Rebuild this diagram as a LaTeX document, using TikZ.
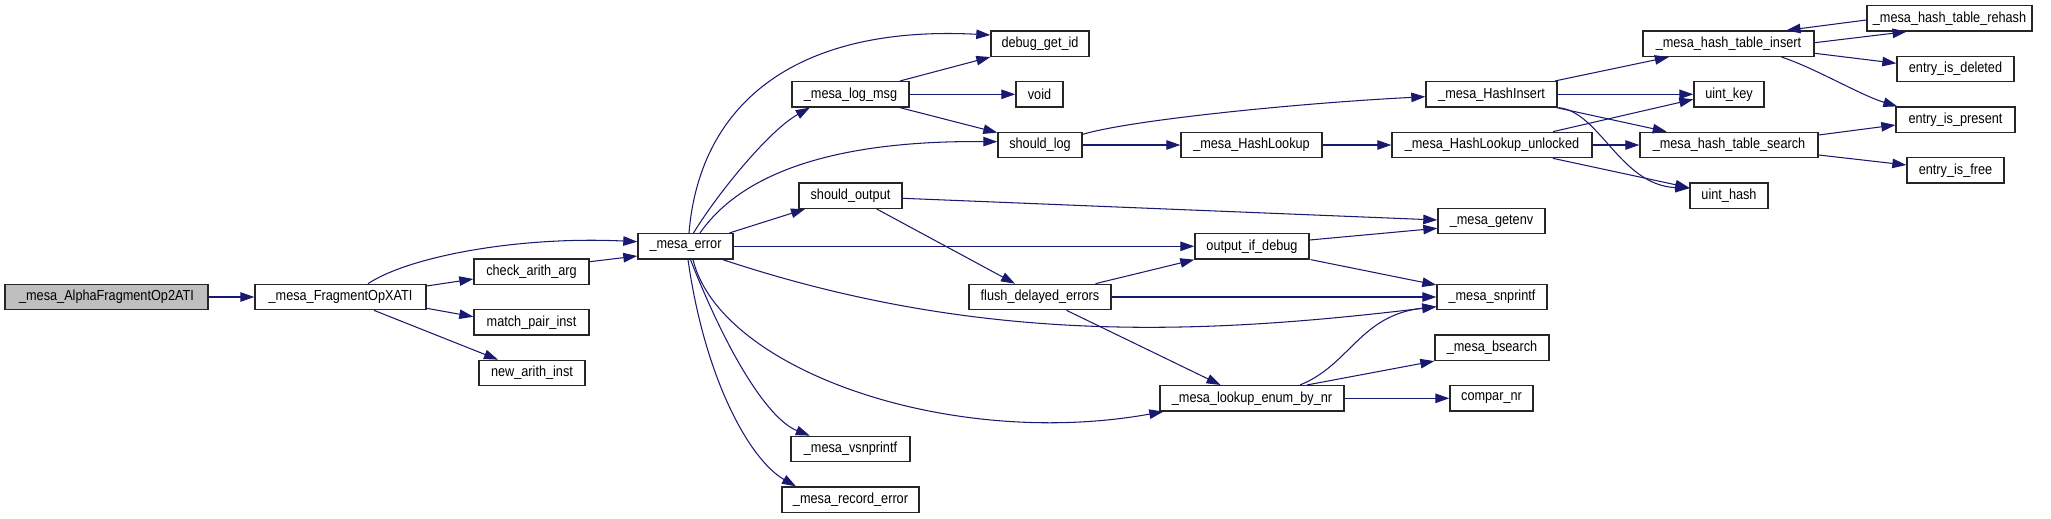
\documentclass[tikz,border=0pt]{standalone}
\usepackage{fontspec}
\setmainfont{Liberation Sans}
\newfontfamily\nodefont[FakeStretch=0.87]{Liberation Sans}
\usetikzlibrary{arrows.meta,calc}
\definecolor{edgeblue}{HTML}{191970}
\definecolor{rootgray}{HTML}{BFBFBF}
\begin{document}
\begin{tikzpicture}[x=1pt,y=-1pt,
  fn/.style={draw=black!85,line width=1.4pt,fill=white,rectangle,inner sep=0pt,
     minimum height=25.3pt,font=\nodefont\fontsize{14.6}{16}\selectfont},
  call/.style={draw=edgeblue,line width=1.05pt,-{Triangle[length=14pt,width=9.5pt]}}]
\path[use as bounding box] (0,0) rectangle (2051,519);
% nodes
\node[fn,fill=rootgray,minimum width=203pt] (alpha) at (106.5,297) {\_mesa\_AlphaFragmentOp2ATI};
\node[fn,minimum width=171pt] (frag) at (340.5,297) {\_mesa\_FragmentOpXATI};
\node[fn,minimum width=115pt] (check) at (531.5,271.7) {check\_arith\_arg};
\node[fn,minimum width=115pt] (match) at (531.5,322.3) {match\_pair\_inst};
\node[fn,minimum width=106pt] (newarith) at (532,373) {new\_arith\_inst};
\node[fn,minimum width=95pt] (err) at (685.5,246.3) {\_mesa\_error};
\node[fn,minimum width=98pt] (dbg) at (1040,43.7) {debug\_get\_id};
\node[fn,minimum width=117pt] (logmsg) at (850.5,94.3) {\_mesa\_log\_msg};
\node[fn,minimum width=47pt] (void) at (1039.5,94.3) {void};
\node[fn,minimum width=84pt] (shlog) at (1040,145) {should\_log};
\node[fn,minimum width=103pt] (shout) at (850.5,195.7) {should\_output};
\node[fn,minimum width=141pt] (hlookup) at (1251.5,145) {\_mesa\_HashLookup};
\node[fn,minimum width=114pt] (outdbg) at (1252,246.3) {output\_if\_debug};
\node[fn,minimum width=142pt] (flush) at (1040,297) {flush\_delayed\_errors};
\node[fn,minimum width=184pt] (lookup) at (1252,398.3) {\_mesa\_lookup\_enum\_by\_nr};
\node[fn,minimum width=119pt] (vsn) at (850.5,449) {\_mesa\_vsnprintf};
\node[fn,minimum width=137pt] (rec) at (850.5,499.7) {\_mesa\_record\_error};
\node[fn,minimum width=165pt] (rehash) at (1949.5,18.3) {\_mesa\_hash\_table\_rehash};
\node[fn,minimum width=171pt] (hins) at (1728.5,43.7) {\_mesa\_hash\_table\_insert};
\node[fn,minimum width=117pt] (deleted) at (1955.5,69) {entry\_is\_deleted};
\node[fn,minimum width=131pt] (hinsert) at (1491.5,94.3) {\_mesa\_HashInsert};
\node[fn,minimum width=70pt] (ukey) at (1729,94.3) {uint\_key};
\node[fn,minimum width=119pt] (present) at (1955.5,119.7) {entry\_is\_present};
\node[fn,minimum width=200pt] (hunl) at (1492,145) {\_mesa\_HashLookup\_unlocked};
\node[fn,minimum width=178pt] (hsearch) at (1729,145) {\_mesa\_hash\_table\_search};
\node[fn,minimum width=97pt] (free) at (1955.5,170.3) {entry\_is\_free};
\node[fn,minimum width=78pt] (uhash) at (1729,195.7) {uint\_hash};
\node[fn,minimum width=107pt] (getenv) at (1491.5,221) {\_mesa\_getenv};
\node[fn,minimum width=110pt] (snprintf) at (1492,297) {\_mesa\_snprintf};
\node[fn,minimum width=114pt] (bsearch) at (1492,347.7) {\_mesa\_bsearch};
\node[fn,minimum width=83pt] (compar) at (1491.5,398.3) {compar\_nr};
% edges
\draw[call] (alpha.east) -- (frag.west);
\draw[call] ($(frag.north)+(27.5,0)$) .. controls (410,256) and (520,236) .. ($(err.west)+(0,-4.6)$);
\draw[call] ($(frag.east)+(0,-11)$) -- ($(check.west)+(0,7.3)$);
\draw[call] ($(frag.east)+(0,11.3)$) -- ($(match.west)+(0,-5.6)$);
\draw[call] ($(frag.south)+(33.5,0)$) -- ($(newarith.north)+(-34,0)$);
\draw[call] ($(check.east)+(0,-10)$) -- ($(err.west)+(0,9.7)$);
\draw[call] ($(err.north)+(3.5,0)$) .. controls (700,100) and (800,25) .. ($(dbg.west)+(0,-8.7)$);
\draw[call] ($(err.north)+(8,0)$) .. controls (720,190) and (770,130) .. ($(logmsg.south)+(-40.7,0)$);
\draw[call] ($(err.north)+(14.5,0)$) .. controls (730,190) and (800,140) .. ($(shlog.west)+(0,-3.3)$);
\draw[call] ($(err.north)+(44,0)$) -- ($(shout.south)+(-45.5,0)$);
\draw[call] (err.east) -- (outdbg.west);
\draw[call] ($(err.south)+(37.3,0)$) .. controls (980,345) and (1200,335) .. ($(snprintf.west)+(0,9.7)$);
\draw[call] ($(err.south)+(7.5,0)$) .. controls (720,370) and (950,450) .. ($(lookup.south west)+(4,0)$);
\draw[call] ($(err.south)+(5,0)$) .. controls (730,360) and (770,420) .. ($(vsn.north)+(-40.7,0)$);
\draw[call] ($(err.south)+(2.5,0)$) .. controls (705,380) and (750,460) .. ($(rec.north)+(-54.5,0)$);
\draw[call] ($(logmsg.north)+(49.5,0)$) -- (dbg.south west);
\draw[call] (logmsg.east) -- (void.west);
\draw[call] ($(logmsg.south)+(49.5,0)$) -- ($(shlog.north west)+(0,1)$);
\draw[call] ($(shlog.north east)+(0,2.7)$) .. controls (1130,120) and (1300,103) .. ($(hinsert.west)+(0,2.4)$);
\draw[call] (shlog.east) -- (hlookup.west);
\draw[call] ($(shout.east)+(0,2.6)$) -- ($(getenv.west)+(0,-1)$);
\draw[call] ($(shout.south)+(26.3,0)$) -- ($(flush.north)+(-25,0)$);
\draw[call] (hlookup.east) -- (hunl.west);
\draw[call] ($(hinsert.north)+(63.5,0)$) -- ($(hins.south)+(-59.7,0)$);
\draw[call] (hinsert.east) -- (ukey.west);
\draw[call] ($(hinsert.south)+(65,0)$) -- ($(hsearch.north)+(-62.3,0)$);
\draw[call] ($(hinsert.south east)+(1,0)$) .. controls (1600,112) and (1620,185) .. ($(uhash.west)+(0,-7.4)$);
\draw[call] ($(hunl.north)+(61,0)$) -- ($(ukey.west)+(0,5)$);
\draw[call] (hunl.east) -- (hsearch.west);
\draw[call] ($(hunl.south)+(61,0)$) -- ($(uhash.west)+(0,-8)$);
\draw[call] ($(hins.east)+(0,-1)$) -- ($(rehash.south)+(-43,0)$);
\draw[call] ($(rehash.west)+(0,1.7)$) -- ($(hins.north)+(58,0)$);
\draw[call] ($(hins.east)+(0,9.6)$) -- ($(deleted.west)+(0,-5.7)$);
\draw[call] ($(hins.south)+(53,0)$) .. controls (1815,68) and (1860,95) .. ($(present.north west)+(2,0)$);
\draw[call] ($(hsearch.east)+(0,-10)$) -- ($(present.west)+(0,5.3)$);
\draw[call] ($(hsearch.east)+(0,10)$) -- ($(free.west)+(0,-5.3)$);
\draw[call] ($(outdbg.east)+(0,-6.3)$) -- ($(getenv.west)+(0,7.3)$);
\draw[call] ($(outdbg.south east)+(1,0)$) -- ($(snprintf.west)+(0,-12)$);
\draw[call] ($(flush.north)+(55.5,0)$) -- (outdbg.south west);
\draw[call] (flush.east) -- (snprintf.west);
\draw[call] ($(flush.south)+(26.5,0)$) -- ($(lookup.north)+(-31.5,0)$);
\draw[call] ($(lookup.north)+(48,0)$) .. controls (1350,365) and (1360,315) .. ($(snprintf.west)+(0,9.7)$);
\draw[call] ($(lookup.north)+(55,0)$) -- (bsearch.south west);
\draw[call] (lookup.east) -- (compar.west);
\end{tikzpicture}
\end{document}
